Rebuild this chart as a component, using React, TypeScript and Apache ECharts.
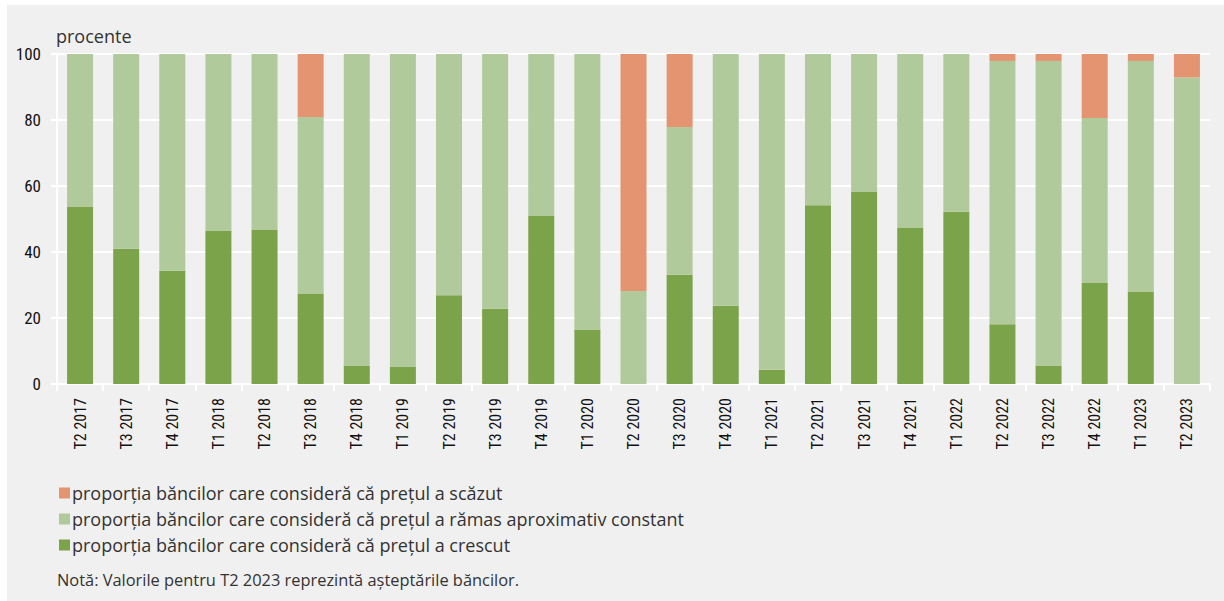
import React, { useEffect, useRef } from "react";
import * as echarts from "echarts";

const categories = [
  "T2 2017", "T3 2017", "T4 2017", "T1 2018", "T2 2018", "T3 2018", "T4 2018",
  "T1 2019", "T2 2019", "T3 2019", "T4 2019", "T1 2020", "T2 2020", "T3 2020",
  "T4 2020", "T1 2021", "T2 2021", "T3 2021", "T4 2021", "T1 2022", "T2 2022",
  "T3 2022", "T4 2022", "T1 2023", "T2 2023",
];

const crescut = [
  53.8, 41, 34.3, 46.5, 46.7, 27.3, 5.6, 5.3, 26.9, 22.8, 50.9, 16.5, 0, 33.1,
  23.7, 4.3, 54.2, 58.3, 47.3, 52.2, 18.1, 5.6, 30.6, 28, 0,
];
const constant = [
  46.2, 59, 65.7, 53.5, 53.3, 53.6, 94.4, 94.7, 73.1, 77.2, 49.1, 83.5, 28.2, 44.8,
  76.3, 95.7, 45.8, 41.7, 52.7, 47.8, 79.8, 92.3, 50, 69.9, 92.9,
];
const scazut = [
  0, 0, 0, 0, 0, 19.1, 0, 0, 0, 0, 0, 0, 71.8, 22.1,
  0, 0, 0, 0, 0, 0, 2.1, 2.1, 19.4, 2.1, 7.1,
];

const yTicks = { min: 0, max: 100, interval: 20 };

const seriesNames = [
  "proporția băncilor care consideră că prețul a scăzut",
  "proporția băncilor care consideră că prețul a rămas aproximativ constant",
  "proporția băncilor care consideră că prețul a crescut",
];

const colors = { crescut: "#7ba34a", constant: "#b0ca9b", scazut: "#e49470" };

export default function App() {
  const ref = useRef<HTMLDivElement>(null);
  useEffect(() => {
    document.body.style.margin = "0";
    const chart = echarts.init(ref.current!, null, { renderer: "svg" });
    const narrow = "'Liberation Sans Narrow', 'Roboto Condensed', Arial, sans-serif";
    const sans = "'Open Sans', 'Noto Sans', sans-serif";
    chart.setOption({
      animation: false,
      backgroundColor: "#ffffff",
      grid: { left: 57, right: 14, top: 54, bottom: 217 },
      legend: {
        orient: "vertical",
        left: 54,
        top: 479,
        itemWidth: 11,
        itemHeight: 11,
        itemGap: 8,
        icon: "rect",
        textStyle: { fontFamily: sans, fontSize: 18, color: "#333", padding: [0, 0, 0, -3] },
        data: seriesNames,
      },
      graphic: [
        {
          type: "rect",
          z: -10,
          silent: true,
          shape: { x: 7, y: 5, width: 1217, height: 596 },
          style: { fill: "#f0f0f0" },
        },
        {
          type: "text",
          left: 56,
          top: 27,
          style: { text: "procente", fontFamily: sans, fontSize: 18, fill: "#333" },
        },
        {
          type: "text",
          left: 57,
          top: 571,
          style: {
            text: "Notă: Valorile pentru T2 2023 reprezintă așteptările băncilor.",
            fontFamily: sans,
            fontSize: 16.4,
            fill: "#333",
          },
        },
      ],
      xAxis: {
        type: "category",
        data: categories,
        axisLine: { lineStyle: { color: "#ffffff", width: 2 } },
        axisTick: { show: true, length: 7, lineStyle: { color: "#ffffff", width: 2 } },
        axisLabel: {
          rotate: 90,
          interval: 0,
          margin: 14,
          fontFamily: narrow,
          fontSize: 16,
          color: "#111",
        },
      },
      yAxis: {
        type: "value",
        min: yTicks.min,
        max: yTicks.max,
        interval: yTicks.interval,
        axisLine: { show: true, lineStyle: { color: "#ffffff", width: 2 } },
        axisTick: { show: true, length: 6, lineStyle: { color: "#ffffff", width: 2 } },
        splitLine: { lineStyle: { color: "#ffffff", width: 2 } },
        axisLabel: { fontFamily: narrow, fontSize: 17, color: "#111", margin: 16 },
      },
      series: [
        {
          name: seriesNames[2],
          type: "bar",
          stack: "t",
          barWidth: 26,
          data: crescut,
          itemStyle: { color: colors.crescut },
        },
        {
          name: seriesNames[1],
          type: "bar",
          stack: "t",
          barWidth: 26,
          data: constant,
          itemStyle: { color: colors.constant },
        },
        {
          name: seriesNames[0],
          type: "bar",
          stack: "t",
          barWidth: 26,
          data: scazut,
          itemStyle: { color: colors.scazut },
        },
      ],
    });
    return () => chart.dispose();
  }, []);
  return <div ref={ref} style={{ width: 1224, height: 601 }} />;
}
